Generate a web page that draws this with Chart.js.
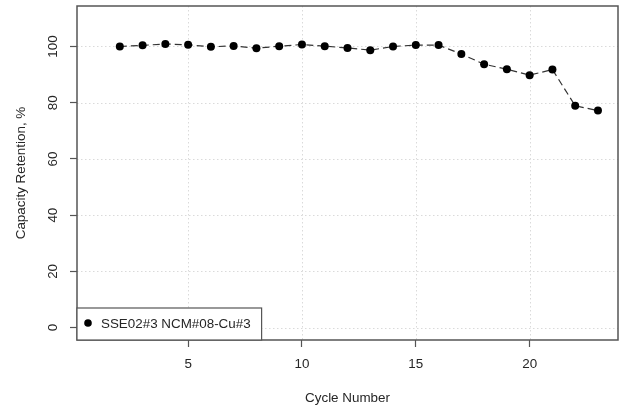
<!DOCTYPE html>
<html>
<head>
<meta charset="utf-8">
<script src="https://cdn.jsdelivr.net/npm/chart.js@4"></script>
<style>
  html, body { margin: 0; padding: 0; background: #fff; }
  #wrap { width: 625px; height: 412px; }
</style>
</head>
<body>
<div id="wrap"><canvas id="capChart" width="625" height="412"></canvas></div>
<script>
const cycles = [2, 3, 4, 5, 6, 7, 8, 9, 10, 11, 12, 13, 14, 15, 16, 17, 18, 19, 20, 21, 22, 23];
const retention = [100.0, 100.4, 100.9, 100.6, 99.9, 100.2, 99.4, 100.1, 100.7, 100.1, 99.5,
                   98.7, 100.0, 100.5, 100.5, 97.3, 93.7, 91.9, 89.8, 91.8, 78.9, 77.2];
const xTicks = [5, 10, 15, 20];
const yTicks = [0, 20, 40, 60, 80, 100];
const seriesName = "SSE02#3 NCM#08-Cu#3";

const fontFamily = "'Liberation Sans', Arial, sans-serif";
const fontSize = 13.4;
const axisGray = "#555";
const textColor = "#262626";

// dotted grid, box, rotated y labels and the legend, R style
const rPlotStyle = {
    id: "rPlotStyle",
    beforeDatasetsDraw(chart) {
        const { ctx, chartArea: a, scales: { x, y } } = chart;
        ctx.save();
        ctx.strokeStyle = "#dadada";
        ctx.lineWidth = 1;
        ctx.setLineDash([1.5, 2.5]);
        xTicks.forEach(v => {
            const px = Math.round(x.getPixelForValue(v)) + 0.5;
            ctx.beginPath(); ctx.moveTo(px, a.top); ctx.lineTo(px, a.bottom); ctx.stroke();
        });
        yTicks.forEach(v => {
            const py = Math.round(y.getPixelForValue(v)) + 0.5;
            ctx.beginPath(); ctx.moveTo(a.left, py); ctx.lineTo(a.right, py); ctx.stroke();
        });
        ctx.restore();
    },
    afterDatasetsDraw(chart) {
        const { ctx, chartArea: a, scales: { y } } = chart;
        ctx.save();
        // box
        ctx.strokeStyle = axisGray;
        ctx.lineWidth = 1.5;
        ctx.strokeRect(a.left, a.top, a.right - a.left, a.bottom - a.top);

        // y tick labels, rotated like R las=0
        ctx.fillStyle = textColor;
        ctx.font = fontSize + "px " + fontFamily;
        ctx.textAlign = "center";
        ctx.textBaseline = "middle";
        yTicks.forEach(v => {
            ctx.save();
            ctx.translate(53, y.getPixelForValue(v));
            ctx.rotate(-Math.PI / 2);
            ctx.fillText(String(v), 0, 0);
            ctx.restore();
        });

        // legend in the bottom-left corner
        const label = chart.data.datasets[0].label;
        const tw = ctx.measureText(label).width;
        const lx = a.left, lb = a.bottom, lh = 32, lw = tw + 35;
        ctx.fillStyle = "#fff";
        ctx.fillRect(lx, lb - lh, lw, lh);
        ctx.strokeStyle = axisGray;
        ctx.lineWidth = 1.2;
        ctx.strokeRect(lx, lb - lh, lw, lh);
        ctx.fillStyle = "#000";
        ctx.beginPath();
        ctx.arc(lx + 11, lb - lh / 2 - 1, 3.8, 0, Math.PI * 2);
        ctx.fill();
        ctx.fillStyle = textColor;
        ctx.textAlign = "left";
        ctx.fillText(label, lx + 24, lb - lh / 2);
        ctx.restore();
    }
};

new Chart("capChart", {
    type: "line",
    data: {
        datasets: [{
            label: seriesName,
            data: cycles.map((c, i) => ({ x: c, y: retention[i] })),
            borderColor: "#333",
            borderWidth: 1.2,
            borderDash: [7, 4],
            pointRadius: 4,
            pointBackgroundColor: "#000",
            pointBorderColor: "#000",
            pointBorderWidth: 0,
            tension: 0
        }]
    },
    options: {
        responsive: false,
        animation: false,
        events: [],
        layout: { padding: { top: 6, right: 7, left: 0, bottom: 0 } },
        plugins: {
            legend: { display: false },
            tooltip: { enabled: false }
        },
        scales: {
            x: {
                type: "linear",
                min: 0.12,
                max: 23.88,
                afterBuildTicks: s => { s.ticks = xTicks.map(v => ({ value: v })); },
                afterFit: s => { s.height = 72; },
                grid: {
                    drawOnChartArea: false,
                    drawTicks: true,
                    tickLength: 7,
                    tickColor: axisGray,
                    tickWidth: 1.2
                },
                border: { display: false },
                ticks: {
                    color: textColor,
                    padding: 9,
                    maxRotation: 0,
                    font: { family: fontFamily, size: fontSize }
                },
                title: {
                    display: true,
                    text: "Cycle Number",
                    color: textColor,
                    font: { family: fontFamily, size: fontSize },
                    padding: { top: 0, bottom: 6 }
                }
            },
            y: {
                type: "linear",
                min: -4.4,
                max: 114.4,
                afterBuildTicks: s => { s.ticks = yTicks.map(v => ({ value: v })); },
                afterFit: s => { s.width = 77; },
                grid: {
                    drawOnChartArea: false,
                    drawTicks: true,
                    tickLength: 7,
                    tickColor: axisGray,
                    tickWidth: 1.2
                },
                border: { display: false },
                ticks: { display: false },
                title: {
                    display: true,
                    text: "Capacity Retention, %",
                    color: textColor,
                    font: { family: fontFamily, size: fontSize },
                    padding: { top: 13, bottom: 0 }
                }
            }
        }
    },
    plugins: [rPlotStyle]
});
</script>
</body>
</html>
